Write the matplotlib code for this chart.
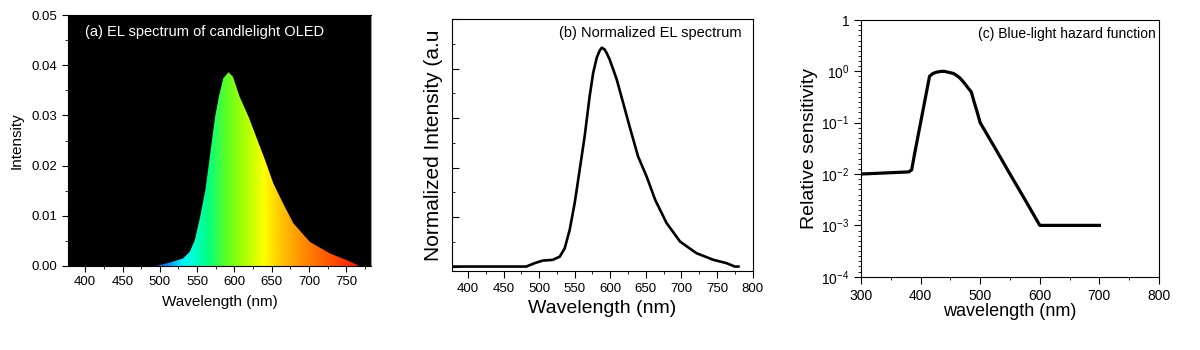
import numpy as np
import matplotlib
matplotlib.use("Agg")
import matplotlib.pyplot as plt
from matplotlib.colors import LinearSegmentedColormap, Normalize
from matplotlib.patches import PathPatch
from matplotlib.ticker import MultipleLocator, FixedLocator, FixedFormatter, NullFormatter

plt.rcParams['font.family'] = 'Liberation Sans'
plt.rcParams['mathtext.fontset'] = 'custom'
plt.rcParams['mathtext.rm'] = 'Liberation Sans'

### (a) EL spectrum of candlelight OLED
wl_a = [495, 514, 531, 540, 547, 554, 561, 567, 574, 579, 585, 592, 598, 607,
        619, 630, 641, 652, 665, 679, 701, 728, 750, 768]
int_a = [0.0, 0.0007, 0.0015, 0.0028, 0.0052, 0.0098, 0.0151, 0.0218, 0.0297,
         0.0337, 0.0374, 0.0386, 0.0377, 0.0337, 0.0297, 0.0254, 0.0211,
         0.0165, 0.0125, 0.0085, 0.0048, 0.0025, 0.0012, 0.0]

### (b) normalized EL spectrum
wl_b = [379, 482, 494, 505, 519, 529, 536, 543, 550, 557, 564, 571, 576, 581,
        585, 588, 592, 595, 599, 604, 609, 618, 627, 639, 651, 663, 679, 698,
        721, 745, 763, 775, 780]
int_b = [0.0, 0.0, 0.014, 0.024, 0.027, 0.040, 0.074, 0.149, 0.257, 0.391,
         0.526, 0.688, 0.783, 0.844, 0.872, 0.884, 0.877, 0.862, 0.837, 0.797,
         0.756, 0.662, 0.567, 0.445, 0.364, 0.270, 0.176, 0.101, 0.054, 0.027,
         0.014, 0.0, 0.0]

### (c) blue-light hazard function
wl_c = [300, 380, 385, 390, 395, 400, 405, 410, 415, 420, 425, 430, 435, 440,
        445, 450, 455, 460, 465, 470, 475, 480, 485, 490, 495, 500, 525, 550,
        575, 600, 700]
haz_c = [0.010, 0.011, 0.012, 0.025, 0.05, 0.10, 0.20, 0.40, 0.80, 0.90, 0.95,
         0.98, 1.0, 1.0, 0.97, 0.94, 0.91, 0.84, 0.76, 0.66, 0.56, 0.47, 0.40,
         0.25, 0.16, 0.10, 0.032, 0.010, 0.0032, 0.001, 0.001]

c_ticks = [1e-4, 1e-3, 1e-2, 1e-1, 1e0, 1e1]
c_ticklabels = [r'$\mathregular{10^{-4}}$', r'$\mathregular{10^{-3}}$',
                r'$\mathregular{10^{-2}}$', r'$\mathregular{10^{-1}}$',
                r'$\mathregular{10^{0}}$', '1']

### rainbow used for the filled spectrum
stop_wl = [490, 510, 530, 545, 565, 590, 615, 640, 665, 690, 720, 765]
stop_col = ['#0050ff', '#0090ff', '#00f0ff', '#00ffd0', '#00ff80', '#60ff20',
            '#b0ff00', '#ffff00', '#ffc000', '#ff9000', '#ff6000', '#ff1a00']
pos = [(w - stop_wl[0]) / (stop_wl[-1] - stop_wl[0]) for w in stop_wl]
rainbow = LinearSegmentedColormap.from_list('rb', list(zip(pos, stop_col)))

fig = plt.figure(figsize=(12, 3.5), dpi=100)

### Panel (a)
ax1 = fig.add_axes([0.0567, 0.24, 0.2525, 0.717])
ax1.set_facecolor('black')
poly = ax1.fill_between(wl_a, 0, int_a, color='none', lw=0)
patch = PathPatch(poly.get_paths()[0], transform=ax1.transData,
                  facecolor='none', edgecolor='none')
ax1.add_patch(patch)
grad = np.linspace(stop_wl[0], stop_wl[-1], 600).reshape(1, -1)
im = ax1.imshow(grad, extent=[stop_wl[0], stop_wl[-1], 0, 0.04], aspect='auto',
                cmap=rainbow, norm=Normalize(stop_wl[0], stop_wl[-1]),
                origin='lower', interpolation='bilinear')
im.set_clip_path(patch)
ax1.set_xlim(377, 783)
ax1.set_ylim(0, 0.05)
ax1.xaxis.set_major_locator(MultipleLocator(50))
ax1.xaxis.set_minor_locator(MultipleLocator(25))
ax1.yaxis.set_major_locator(MultipleLocator(0.01))
ax1.yaxis.set_minor_locator(MultipleLocator(0.005))
ax1.yaxis.set_major_formatter(plt.FuncFormatter(lambda v, p: f"{v:.2f}"))
ax1.tick_params(which='both', direction='out', labelsize=9.5, top=False, right=False)
ax1.tick_params(which='major', length=4)
ax1.tick_params(which='minor', length=2)
ax1.spines['right'].set_color('#999999')
ax1.set_xlabel("Wavelength (nm)", fontsize=11, labelpad=5)
ax1.set_ylabel("Intensity", fontsize=11, labelpad=6)
ax1.text(0.056, 0.932, "(a) EL spectrum of candlelight OLED", color='white',
         fontsize=10.5, transform=ax1.transAxes, va='center', ha='left')

### Panel (b)
ax2 = fig.add_axes([0.3769, 0.2257, 0.2503, 0.72])
ax2.plot(wl_b, int_b, color='black', lw=1.9, solid_joinstyle='round')
ax2.set_xlim(378, 800)
ax2.set_ylim(-0.018, 1.0)
ax2.xaxis.set_major_locator(MultipleLocator(50))
ax2.xaxis.set_minor_locator(MultipleLocator(25))
ax2.yaxis.set_major_locator(MultipleLocator(0.2))
ax2.yaxis.set_minor_locator(MultipleLocator(0.1))
ax2.yaxis.set_major_formatter(NullFormatter())
ax2.tick_params(axis='x', which='both', direction='out', labelsize=9.5)
ax2.tick_params(axis='y', which='both', direction='in')
ax2.tick_params(which='major', length=5)
ax2.tick_params(which='minor', length=2.5)
ax2.set_xlabel("Wavelength (nm)", fontsize=14, labelpad=4)
ax2.set_ylabel("Normalized Intensity (a.u", fontsize=15, labelpad=3)
ax2.text(0.964, 0.944, "(b) Normalized EL spectrum", fontsize=10.5,
         transform=ax2.transAxes, va='center', ha='right')

### Panel (c)
ax3 = fig.add_axes([0.7175, 0.2094, 0.2483, 0.7334])
ax3.plot(wl_c, haz_c, color='black', lw=2.3, solid_joinstyle='round')
ax3.set_yscale('log')
ax3.set_xlim(300, 800)
ax3.set_ylim(1e-4, 1e1)
ax3.xaxis.set_major_locator(MultipleLocator(100))
ax3.xaxis.set_minor_locator(MultipleLocator(50))
ax3.yaxis.set_major_locator(FixedLocator(c_ticks))
ax3.yaxis.set_major_formatter(FixedFormatter(c_ticklabels))
ax3.yaxis.set_minor_locator(FixedLocator(10 ** np.arange(-4, 1.001, 0.1)))
ax3.yaxis.set_minor_formatter(NullFormatter())
ax3.tick_params(which='both', direction='out', labelsize=10)
ax3.tick_params(which='major', length=5)
ax3.tick_params(which='minor', length=2.5)
ax3.set_xlabel("wavelength (nm)", fontsize=13, labelpad=0)
ax3.set_ylabel("Relative sensitivity", fontsize=14, labelpad=2)
ax3.text(0.989, 0.944, "(c) Blue-light hazard function", fontsize=10,
         transform=ax3.transAxes, va='center', ha='right')

fig.savefig("out.png", dpi=100)
